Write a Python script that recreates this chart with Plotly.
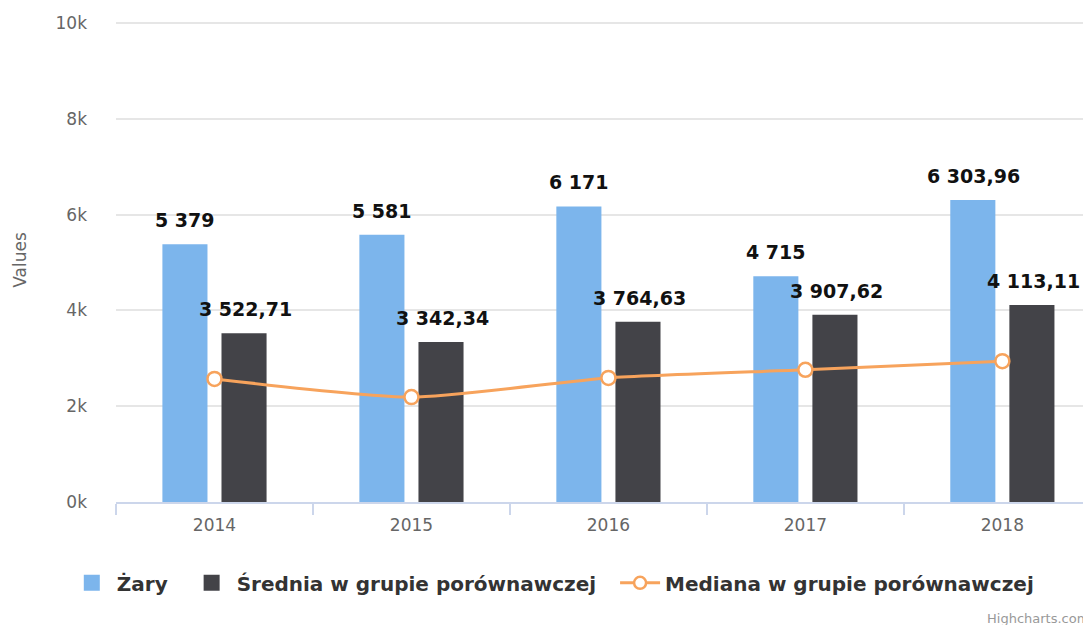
import plotly.graph_objects as go

years = ["2014", "2015", "2016", "2017", "2018"]
zary = [5379, 5581, 6171, 4715, 6303.96]
srednia = [3522.71, 3342.34, 3764.63, 3907.62, 4113.11]
mediana = [2570, 2190, 2590, 2760, 2940]
y_ticks = [0, 2000, 4000, 6000, 8000, 10000]
y_tick_labels = ["0k", "2k", "4k", "6k", "8k", "10k"]

BLUE = "#7cb5ec"
DARK = "#434348"
ORANGE = "#f7a35c"
FONT = "DejaVu Sans"
PAD = "\u00a0\u00a0"


def fmt(v):
    if abs(v - round(v)) < 1e-9:
        s = f"{int(round(v)):,}".replace(",", " ")
    else:
        s = f"{v:,.2f}".replace(",", " ").replace(".", ",")
    return s


fig = go.Figure()
fig.add_trace(go.Bar(x=years, y=zary, name="Żary", showlegend=False, legendgroup="z",
                     marker=dict(color=BLUE, line=dict(width=0))))
fig.add_trace(go.Bar(x=years, y=srednia, name="Średnia w grupie porównawczej", showlegend=False,
                     legendgroup="s", marker=dict(color=DARK, line=dict(width=0))))
fig.add_trace(go.Scatter(x=years, y=mediana, name="Mediana w grupie porównawczej", showlegend=False,
                         legendgroup="m",
                         mode="lines+markers", line=dict(color=ORANGE, width=3, shape="spline", smoothing=0.6),
                         marker=dict(symbol="circle", size=14, color="white",
                                     line=dict(color=ORANGE, width=2.5))))
# legend entries
fig.add_trace(go.Scatter(x=[None], y=[None], name="Żary" + PAD, legendgroup="z", mode="markers",
                         marker=dict(symbol="square", size=20, color=BLUE)))
fig.add_trace(go.Scatter(x=[None], y=[None], name="Średnia w grupie porównawczej" + PAD, legendgroup="s",
                         mode="markers", marker=dict(symbol="square", size=20, color=DARK)))
fig.add_trace(go.Scatter(x=[None], y=[None], name="Mediana w grupie porównawczej", legendgroup="m",
                         mode="lines+markers", line=dict(color=ORANGE, width=3),
                         marker=dict(symbol="circle", size=12, color="white",
                                     line=dict(color=ORANGE, width=2.5))))

annotations = []
for i, v in enumerate(zary):
    annotations.append(dict(x=i, y=v, xref="x", yref="y", text=fmt(v), showarrow=False,
                            xshift=-29, yshift=24, yanchor="middle",
                            font=dict(family=FONT, size=19, color="#111", weight="bold")))
for i, v in enumerate(srednia):
    annotations.append(dict(x=i, y=v, xref="x", yref="y", text=fmt(v), showarrow=False,
                            xshift=31, yshift=24, yanchor="middle",
                            font=dict(family=FONT, size=19, color="#111", weight="bold")))
annotations.append(dict(x=1.0, y=-0.24, xref="paper", yref="paper",
                        text="Highcharts.com", showarrow=False, xanchor="right", yanchor="middle",
                        font=dict(family=FONT, size=13, color="#999")))

fig.update_layout(
    width=1083, height=617,
    margin=dict(l=108, r=0, t=10, b=123),
    paper_bgcolor="white", plot_bgcolor="white",
    barmode="group", bargap=0.40, bargroupgap=0.237,
    hovermode=False,
    font=dict(family=FONT, color="#666"),
    annotations=annotations,
    legend=dict(orientation="h", xref="paper", yref="paper", x=0.448, y=-0.167,
                xanchor="center", yanchor="middle",
                font=dict(family=FONT, size=20, color="#333", weight="bold"),
                itemwidth=40, itemsizing="trace", traceorder="normal"),
    xaxis=dict(type="category", range=[-0.5, 4.45], showgrid=False,
               showline=True, linecolor="#ccd6eb", linewidth=1.5,
               ticks="outside", tickson="boundaries", ticklen=11, tickcolor="#ccd6eb", tickwidth=1.5,
               ticklabelstandoff=7,
               tickfont=dict(family=FONT, size=17, color="#666")),
    yaxis=dict(range=[0, 10104.4], tickvals=y_ticks, ticktext=y_tick_labels,
               showgrid=True, gridcolor="#e6e6e6", gridwidth=1.5, zeroline=False,
               showline=False, ticklabelstandoff=28,
               tickfont=dict(family=FONT, size=17, color="#666")),
)
fig.update_yaxes(title=dict(text="Values", standoff=24, font=dict(family=FONT, size=17, color="#666")))

fig.write_html("out.html")
